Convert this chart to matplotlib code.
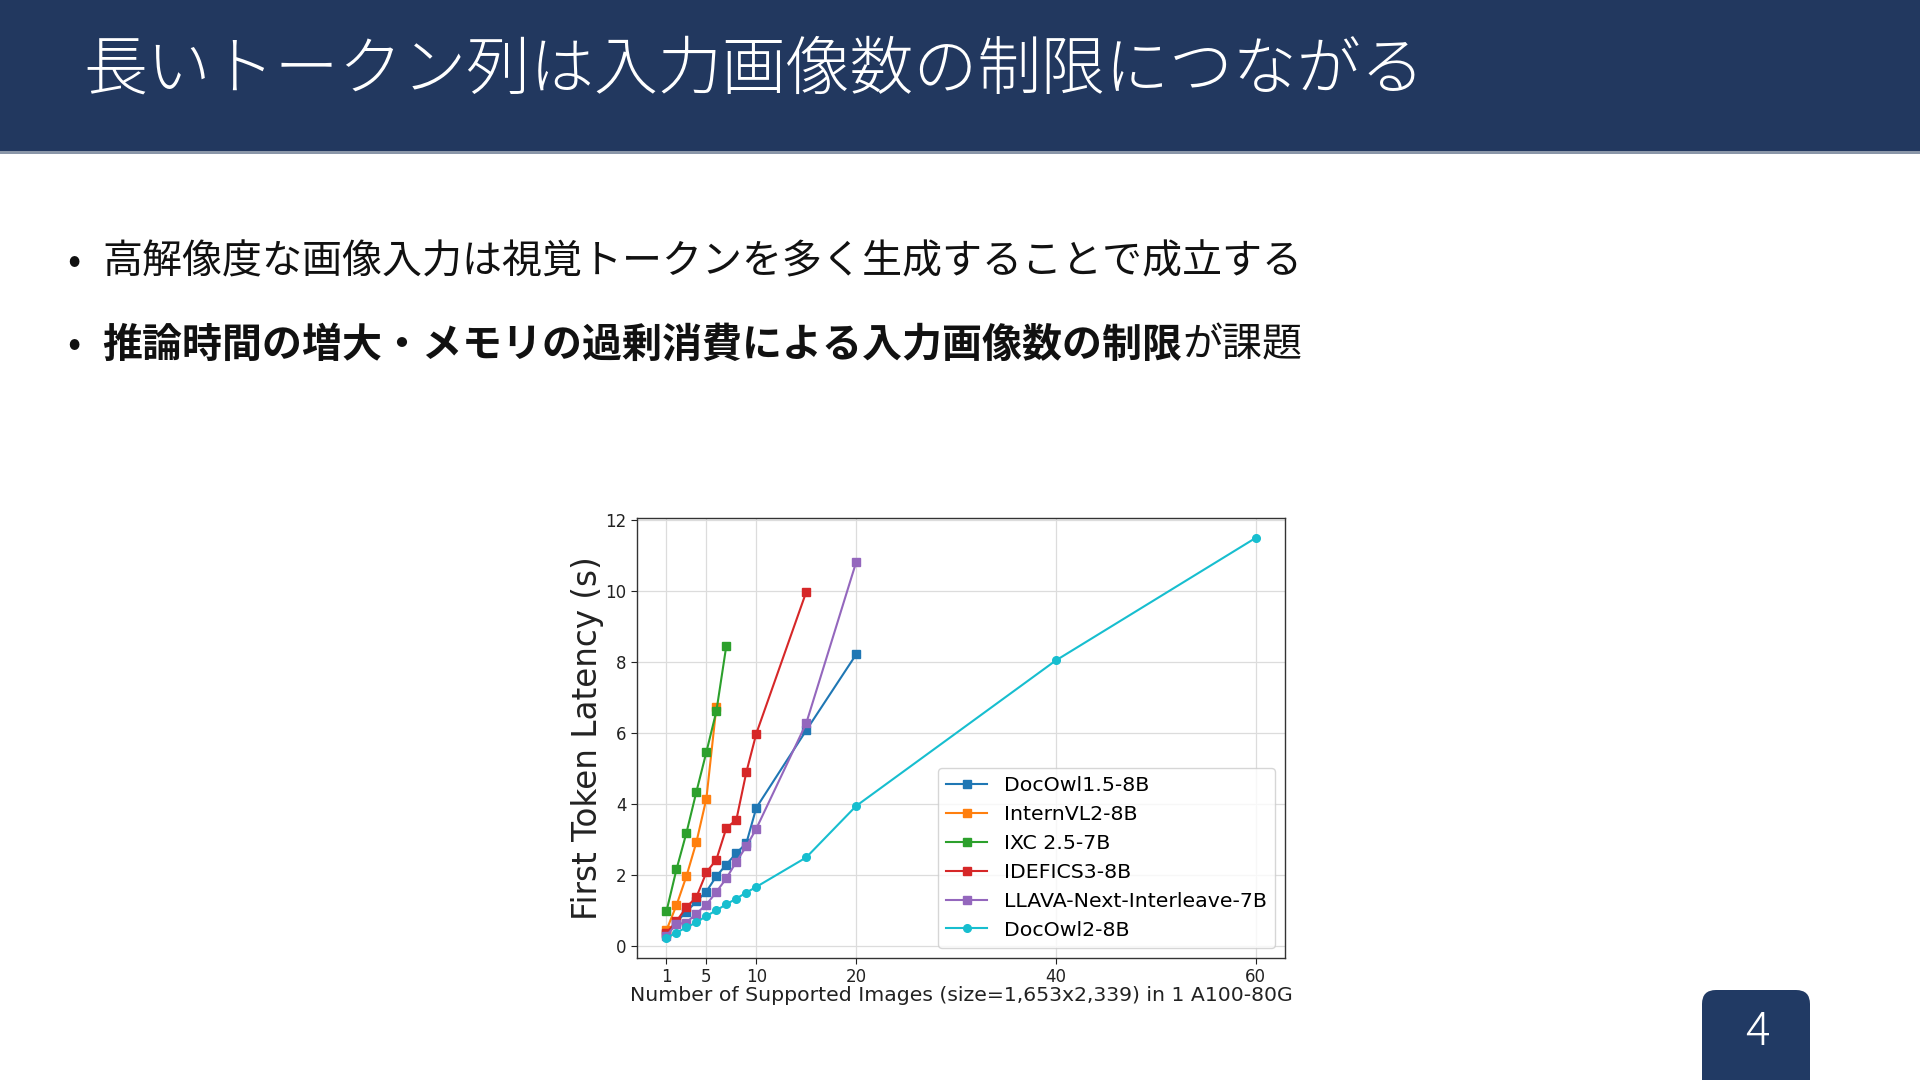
import matplotlib
matplotlib.use("Agg")
import matplotlib.pyplot as plt
from matplotlib.patches import FancyBboxPatch, Rectangle

# ---------------- data ----------------
title_text = "長いトークン列は入力画像数の制限につながる"
bullet1 = "高解像度な画像入力は視覚トークンを多く生成することで成立する"
bullet2_bold = "推論時間の増大・メモリの過剰消費による入力画像数の制限"
bullet2_rest = "が課題"
page_no = "4"

series_names = ["DocOwl1.5-8B", "InternVL2-8B", "IXC 2.5-7B", "IDEFICS3-8B",
                "LLAVA-Next-Interleave-7B", "DocOwl2-8B"]
docowl15_x = [1, 2, 3, 4, 5, 6, 7, 8, 9, 10, 15, 20]
docowl15_y = [0.33, 0.68, 0.97, 1.26, 1.54, 1.97, 2.30, 2.62, 2.90, 3.90, 6.08, 8.22]
internvl2_x = [1, 2, 3, 4, 5, 6]
internvl2_y = [0.45, 1.15, 1.97, 2.93, 4.16, 6.74]
ixc_x = [1, 2, 3, 4, 5, 6, 7]
ixc_y = [0.98, 2.16, 3.19, 4.35, 5.47, 6.62, 8.47]
idefics3_x = [1, 2, 3, 4, 5, 6, 7, 8, 9, 10, 15]
idefics3_y = [0.37, 0.70, 1.10, 1.38, 2.08, 2.44, 3.33, 3.56, 4.90, 5.99, 9.98]
llava_x = [1, 2, 3, 4, 5, 6, 7, 8, 9, 10, 15, 20]
llava_y = [0.30, 0.62, 0.66, 0.92, 1.17, 1.53, 1.91, 2.38, 2.81, 3.31, 6.28, 10.82]
docowl2_x = [1, 2, 3, 4, 5, 6, 7, 8, 9, 10, 15, 20, 40, 60]
docowl2_y = [0.23, 0.38, 0.53, 0.67, 0.85, 1.01, 1.18, 1.34, 1.51, 1.67, 2.50, 3.95, 8.05, 11.50]

xticks = [1, 5, 10, 20, 40, 60]
yticks = [0, 2, 4, 6, 8, 10, 12]
xlabel = "Number of Supported Images (size=1,653x2,339) in 1 A100-80G"
ylabel = "First Token Latency (s)"

# ---------------- figure ----------------
W, H = 1920, 1080
fig = plt.figure(figsize=(19.2, 10.8), dpi=100)
fig.patch.set_facecolor("white")

bg = fig.add_axes([0, 0, 1, 1], zorder=0)
bg.set_xlim(0, W)
bg.set_ylim(H, 0)
bg.axis("off")

navy = "#22385f"
bg.add_patch(Rectangle((0, 0), W, 151, facecolor=navy, edgecolor="none"))
bg.add_patch(Rectangle((0, 151), W, 2.5, facecolor="#8a96a8", edgecolor="none"))

jp = ["Noto Sans CJK JP", "DejaVu Sans"]
bg.text(83, 71, title_text, color="white", fontsize=46, family=jp,
        fontweight="light", va="center", ha="left")

txt_size = 28.8
y1, y2 = 262, 345
bg.text(74, y1, "•", fontsize=28, family=jp, va="center", ha="center", color="#111111")
bg.text(102, y1, bullet1, fontsize=txt_size, family=jp, va="center", ha="left", color="#111111")
bg.text(74, y2, "•", fontsize=28, family=jp, va="center", ha="center", color="#111111")
tb = bg.text(102, y2, bullet2_bold, fontsize=txt_size, family=jp, fontweight="bold",
             va="center", ha="left", color="#111111")
fig.canvas.draw()
r = fig.canvas.get_renderer()
ext = tb.get_window_extent(renderer=r)
x_end = ext.x1  # display px == data px horizontally
bg.text(x_end, y2, bullet2_rest, fontsize=txt_size, family=jp, va="center", ha="left",
        color="#111111")

# page number box
bg.add_patch(FancyBboxPatch((1702, 990), 108, 120,
                            boxstyle="round,pad=0,rounding_size=14",
                            facecolor="#213a64", edgecolor="none"))
bg.text(1757, 1032, page_no, color="white", fontsize=33, family=jp,
        fontweight="light", ha="center", va="center")

# ---------------- chart ----------------
left, right, top, bottom = 637, 1285, 518, 958
ax = fig.add_axes([left / W, 1 - bottom / H, (right - left) / W, (bottom - top) / H], zorder=2)

colors = ["#1f77b4", "#ff7f0e", "#2ca02c", "#d62728", "#9467bd", "#17becf"]
xs = [docowl15_x, internvl2_x, ixc_x, idefics3_x, llava_x, docowl2_x]
ys = [docowl15_y, internvl2_y, ixc_y, idefics3_y, llava_y, docowl2_y]
markers = ["s", "s", "s", "s", "s", "o"]
for name, x, y, c, m in zip(series_names, xs, ys, colors, markers):
    ax.plot(x, y, marker=m, color=c, label=name, linewidth=1.5, markersize=5.5)

ax.set_xticks(xticks)
ax.set_yticks(yticks)
ax.tick_params(labelsize=12, length=4, width=0.8, colors="#222222")
ax.grid(True, color="#dcdcdc", linewidth=0.9)
ax.set_axisbelow(True)
for s in ax.spines.values():
    s.set_color("#333333")
    s.set_linewidth(1.0)
ax.set_xlabel(xlabel, fontsize=14.7, family="DejaVu Sans", color="#222222", labelpad=0)
ax.set_ylabel(ylabel, fontsize=23.5, family="DejaVu Sans", color="#222222", labelpad=1)
leg = ax.legend(loc="lower right", fontsize=14.75, frameon=True, framealpha=0.8,
                edgecolor="#cccccc", handlelength=2.0, labelspacing=0.48)

fig.savefig("out.png", dpi=100)
